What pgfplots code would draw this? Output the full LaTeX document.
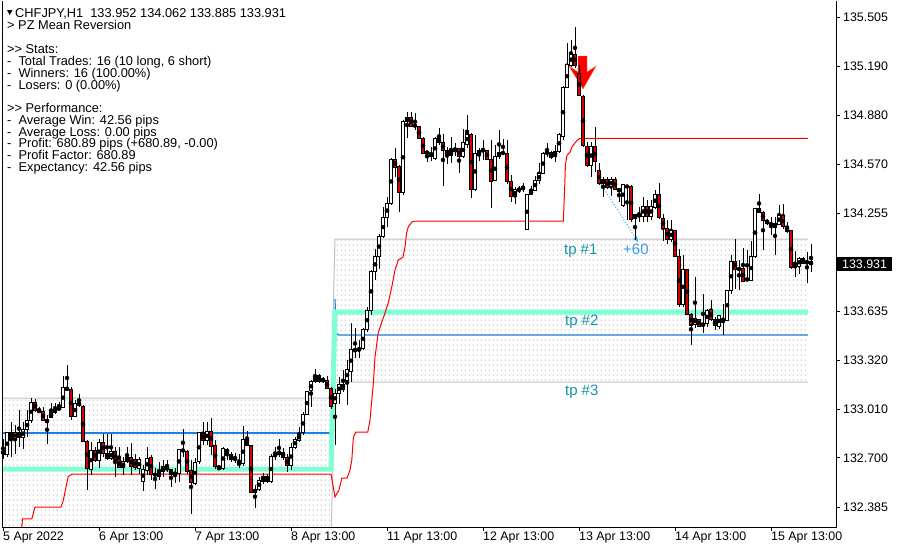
\documentclass[border=0pt]{standalone}
\usepackage{fontspec}
\setmainfont{Liberation Sans}
\usepackage{pgfplots}
\usepackage{pgfplotstable}
\pgfplotsset{compat=1.18}
\usetikzlibrary{patterns,arrows.meta}

\definecolor{bearred}{RGB}{215,0,0}
\definecolor{tpaqua}{RGB}{127,255,212}
\definecolor{midblue}{RGB}{30,128,230}
\definecolor{bandgray}{RGB}{192,192,192}
\definecolor{dotgray}{RGB}{188,188,188}
\definecolor{tpteal}{RGB}{20,150,165}
\definecolor{pipblue}{RGB}{60,150,240}
\definecolor{tradeblue}{RGB}{30,170,240}
\definecolor{arrowedge}{RGB}{255,110,40}

% small vertical dashes that shade the reversion zones
\pgfdeclarepatternformonly{zonedots}{\pgfqpoint{0pt}{0pt}}{\pgfqpoint{4pt}{5pt}}{\pgfqpoint{4pt}{5pt}}{%
  \pgfpathrectangle{\pgfqpoint{1pt}{0pt}}{\pgfqpoint{1pt}{2pt}}\pgfusepath{fill}}

\newcommand\infofont{\fontsize{12.8}{14}\selectfont}
\newcommand\axisfont{\fontsize{12.4}{14}\selectfont}
\newcommand\tpfont{\fontsize{15}{17}\selectfont}
\newcommand\gtgt{>\kern0pt>}

% CHFJPY H1 bars: index, open, high, low, close
\pgfplotstableread{
i O H L C
0 132.746 132.825 132.698 132.725
1 132.723 132.867 132.708 132.861
2 132.863 132.931 132.708 132.825
3 132.825 132.910 132.729 132.863
4 132.863 133.005 132.772 132.831
5 132.831 132.931 132.761 132.882
6 132.882 133.005 132.831 132.937
7 132.937 133.079 132.920 133.054
8 133.054 133.079 132.994 133.005
9 133.005 133.026 132.984 132.994
10 132.994 133.026 132.937 132.941
11 132.941 132.973 132.789 132.931
12 132.958 133.052 132.952 132.990
13 132.990 133.052 132.984 133.011
14 133.009 133.058 133.005 133.022
15 133.022 133.223 133.016 133.147
16 133.147 133.291 133.128 133.136
17 133.136 133.153 132.941 132.963
18 132.963 133.069 132.963 133.047
19 133.052 133.111 133.026 133.037
20 133.030 133.037 132.804 132.804
21 132.808 132.814 132.496 132.634
22 132.628 132.804 132.592 132.746
23 132.746 132.768 132.676 132.687
24 132.683 132.818 132.634 132.799
25 132.799 132.852 132.708 132.729
26 132.729 132.852 132.687 132.698
27 132.698 132.852 132.687 132.740
28 132.740 132.772 132.581 132.691
29 132.691 132.772 132.634 132.640
30 132.640 132.708 132.592 132.676
31 132.676 132.768 132.670 132.704
32 132.704 132.793 132.592 132.645
33 132.691 132.729 132.623 132.640
34 132.634 132.708 132.602 132.691
35 132.549 132.655 132.490 132.628
36 132.623 132.768 132.592 132.698
37 132.704 132.719 132.560 132.592
38 132.598 132.634 132.500 132.592
39 132.581 132.676 132.560 132.617
40 132.613 132.691 132.581 132.645
41 132.628 132.687 132.613 132.640
42 132.628 132.634 132.517 132.592
43 132.592 132.640 132.543 132.609
44 132.602 132.755 132.549 132.755
45 132.746 132.888 132.708 132.751
46 132.744 132.751 132.602 132.613
47 132.623 132.687 132.348 132.543
48 132.539 132.698 132.528 132.672
49 132.676 132.867 132.666 132.861
50 132.857 132.931 132.782 132.814
51 132.814 132.931 132.782 132.871
52 132.871 132.952 132.719 132.776
53 132.782 132.814 132.628 132.645
54 132.649 132.649 132.623 132.634
55 132.634 132.768 132.623 132.761
56 132.755 132.761 132.687 132.725
57 132.723 132.740 132.676 132.691
58 132.702 132.734 132.666 132.691
59 132.662 132.723 132.634 132.666
60 132.662 132.903 132.649 132.818
61 132.818 132.874 132.776 132.782
62 132.782 132.782 132.479 132.481
63 132.481 132.528 132.380 132.503
64 132.503 132.581 132.492 132.560
65 132.549 132.606 132.539 132.585
66 132.585 132.602 132.543 132.549
67 132.549 132.729 132.543 132.712
68 132.708 132.772 132.687 132.729
69 132.725 132.821 132.708 132.740
70 132.736 132.761 132.687 132.704
71 132.704 132.729 132.613 132.651
72 132.651 132.797 132.623 132.768
73 132.768 132.835 132.761 132.821
74 132.814 132.899 132.804 132.852
75 132.861 132.994 132.846 132.980
76 132.980 133.128 132.973 133.122
77 133.128 133.196 133.026 133.185
78 133.185 133.264 133.179 133.221
79 133.228 133.238 133.179 133.185
80 133.192 133.217 133.179 133.196
81 133.192 133.222 133.137 133.143
82 133.143 133.154 133.010 133.031
83 133.048 133.143 132.783 133.111
84 133.111 133.217 133.048 133.171
85 133.171 133.260 133.122 133.137
86 133.196 133.323 133.037 133.260
87 133.249 133.557 133.185 133.391
88 133.383 133.525 133.334 133.391
89 133.383 133.451 133.334 133.398
90 133.398 133.525 133.387 133.518
91 133.518 133.663 133.504 133.637
92 133.637 133.896 133.610 133.885
93 133.885 134.027 133.832 133.981
94 133.981 134.129 133.906 134.112
95 134.108 134.299 134.097 134.231
96 134.231 134.362 134.171 134.320
97 134.320 134.606 134.309 134.600
98 134.600 134.670 134.489 134.549
99 134.557 134.564 134.267 134.388
100 134.388 134.850 134.373 134.839
101 134.839 134.903 134.733 134.867
102 134.867 134.903 134.807 134.812
103 134.818 134.892 134.786 134.812
104 134.807 134.812 134.727 134.733
105 134.733 134.740 134.634 134.638
106 134.648 134.655 134.585 134.638
107 134.621 134.680 134.590 134.638
108 134.606 134.744 134.596 134.733
109 134.733 134.803 134.691 134.706
110 134.706 134.761 134.432 134.655
111 134.655 134.680 134.570 134.627
112 134.627 134.744 134.574 134.649
113 134.649 134.706 134.621 134.670
114 134.670 134.670 134.515 134.617
115 134.617 134.791 134.606 134.706
116 134.697 134.882 134.670 134.761
117 134.761 134.769 134.352 134.409
118 134.409 134.755 134.401 134.638
119 134.627 134.670 134.591 134.655
120 134.655 134.723 134.600 134.659
121 134.659 134.659 134.596 134.600
122 134.600 134.723 134.288 134.458
123 134.464 134.691 134.464 134.617
124 134.617 134.786 134.606 134.644
125 134.638 134.733 134.627 134.644
126 134.638 134.723 134.447 134.458
127 134.458 134.500 134.330 134.367
128 134.367 134.426 134.316 134.405
129 134.401 134.430 134.384 134.415
130 134.415 134.447 134.394 134.420
131 134.155 134.379 134.155 134.379
132 134.379 134.430 134.373 134.401
133 134.405 134.494 134.401 134.468
134 134.464 134.574 134.443 134.511
135 134.511 134.649 134.506 134.638
136 134.638 134.701 134.617 134.649
137 134.644 134.655 134.600 134.613
138 134.621 134.691 134.585 134.649
139 134.649 134.765 134.638 134.755
140 134.744 135.066 134.727 135.058
141 135.058 135.342 135.051 135.200
142 135.200 135.359 135.189 135.270
143 135.270 135.439 135.179 135.200
144 135.147 135.200 135.003 135.009
145 135.003 135.009 134.680 134.691
146 134.685 134.712 134.553 134.564
147 134.564 134.712 134.489 134.685
148 134.685 134.803 134.521 134.585
149 134.528 134.574 134.437 134.447
150 134.447 134.489 134.362 134.472
151 134.472 134.489 134.415 134.420
152 134.426 134.489 134.367 134.472
153 134.472 134.489 134.405 134.409
154 134.409 134.415 134.330 134.401
155 134.309 134.447 134.299 134.443
156 134.430 134.437 134.218 134.426
157 134.430 134.437 134.203 134.218
158 134.224 134.252 134.087 134.246
159 134.240 134.299 134.203 134.246
160 134.235 134.362 134.203 134.303
161 134.303 134.341 134.203 134.235
162 134.239 134.341 134.214 134.299
163 134.295 134.405 134.282 134.379
164 134.379 134.447 134.218 134.229
165 134.224 134.250 134.080 134.161
166 134.161 134.214 134.060 134.090
167 134.090 134.216 134.076 134.150
168 134.150 134.155 133.978 133.983
169 133.983 134.030 133.662 133.676
170 133.680 133.995 133.662 133.900
171 133.900 133.906 133.610 133.615
172 133.614 133.620 133.419 133.546
173 133.552 133.853 133.525 133.588
174 133.582 133.588 133.535 133.540
175 133.540 133.743 133.493 133.556
176 133.556 133.652 133.535 133.641
177 133.645 133.705 133.573 133.582
178 133.582 133.599 133.518 133.546
179 133.535 133.610 133.525 133.610
180 133.567 133.679 133.482 133.578
181 133.578 133.768 133.573 133.768
182 133.764 133.992 133.747 133.949
183 133.953 134.097 133.779 133.900
184 133.906 133.959 133.768 133.900
185 133.906 134.034 133.822 133.822
186 133.843 134.027 133.828 133.832
187 133.832 134.082 133.828 133.985
188 133.981 134.288 133.976 134.288
189 134.288 134.383 134.256 134.260
190 134.260 134.273 134.027 134.214
191 134.214 134.218 134.182 134.193
192 134.193 134.235 134.118 134.182
193 134.167 134.235 133.991 134.193
194 134.188 134.309 134.182 134.246
195 134.246 134.320 134.161 134.171
196 134.176 134.203 134.129 134.140
197 134.146 134.150 133.906 133.913
198 133.913 134.019 133.853 133.928
199 133.921 133.981 133.874 133.970
200 133.970 133.981 133.934 133.938
201 133.938 134.012 133.815 133.953
202 133.952 134.062 133.885 133.931
}\candles

\begin{document}
\begin{tikzpicture}
\useasboundingbox (0pt,0pt) rectangle (900pt,-550pt);
\begin{axis}[
  at={(2pt,-527pt)}, anchor=south west,
  scale only axis, width=834pt, height=526pt,
  xmin=-0.25, xmax=208.25, ymin=132.261, ymax=135.607,
  axis line style={draw=none},
  clip mode=individual,
  unbounded coords=discard,
  tick align=outside,
  major tick length=4pt,
  tick style={black, line width=1pt},
  xtick pos=left, ytick pos=right, yticklabel pos=right,
  xtick={0,24,48,72,96,120,144,168,192},
  xticklabels={5 Apr 2022,6 Apr 13:00,7 Apr 13:00,8 Apr 13:00,11 Apr 13:00,12 Apr 13:00,13 Apr 13:00,14 Apr 13:00,15 Apr 13:00},
  ytick={132.385,132.700,133.010,133.320,133.635,134.255,134.570,134.880,135.190,135.505},
  yticklabels={132.385,132.700,133.010,133.320,133.635,134.255,134.570,134.880,135.190,135.505},
  xticklabel style={font=\axisfont, anchor=north west, inner sep=0pt, yshift=-1pt},
  yticklabel style={font=\axisfont, anchor=west, inner sep=0pt, xshift=3pt},
]
% shaded reversion zones
\addplot[draw=none, pattern=zonedots, pattern color=dotgray] coordinates {(-0.75,133.081) (82,133.081) (82,132.18) (-0.75,132.18)} -- cycle;
\addplot[draw=none, pattern=zonedots, pattern color=dotgray] coordinates {(83,134.093) (201.2,134.093) (201.2,133.183) (83,133.183)} -- cycle;
% zone edges (tp #1 / tp #3 levels)
\addplot[bandgray, line width=1pt] coordinates {(-0.75,133.081) (82,133.081) (83,134.093) (201.2,134.093)};
\addplot[bandgray, line width=1pt] coordinates {(-0.75,132.18) (82,132.18) (83,133.183) (201.2,133.183)};
% mean level
\addplot[midblue, line width=1.2pt] coordinates {(-0.75,132.859) (82,132.859)};
\addplot[midblue, line width=1.2pt] coordinates {(83,133.71) (83.3,133.495) (84,133.482) (201.2,133.482)};
% tp #2 level
\addplot[tpaqua, line width=5pt] coordinates {(-0.75,132.630) (82,132.630) (83,133.628) (201.2,133.628)};
% trailing line
\addplot[red, line width=1pt] coordinates {
 (4.4,132.20) (4.9,132.312) (7.2,132.312) (8,132.388) (14.5,132.388) (15.1,132.433)
 (15.75,132.515) (16.3,132.581) (17.2,132.598) (82,132.598) (83,132.452) (83.3,132.465)
 (84,132.496) (84.7,132.572) (86,132.572) (86.75,132.623) (87.2,132.687) (87.6,132.833)
 (88.2,132.865) (91.2,132.865) (91.75,132.941) (92.2,133.069) (92.6,133.177) (93,133.342)
 (93.8,133.495) (94.7,133.565) (95.5,133.622) (96.3,133.686) (97.2,133.788) (98,133.895)
 (98.8,133.959) (99.7,133.972) (100,133.978) (100.5,134.042) (100.9,134.131) (101.3,134.169)
 (102.2,134.201) (103,134.207) (140.08,134.207) (140.4,134.405) (140.6,134.564) (141,134.627)
 (141.75,134.646) (142.25,134.678) (143,134.704) (143.75,134.726) (144.25,134.733) (201.2,134.733)};
% sell signal arrow
\addplot[fill=red, draw=arrowedge, line width=0.4pt, line join=miter] coordinates {(143.75,135.257) (146,135.257) (146,135.155) (148.25,135.193) (145,135.047) (141.5,135.193) (143.75,135.155)} -- cycle;
% trade path to the first target
\addplot[tradeblue, dotted, line width=1pt, -{Stealth[length=6pt,width=5pt]}] coordinates {(149.5,134.443) (158.75,134.074)};
% candles: wicks, body outlines, body fills
\addplot[only marks, mark=none, error bars/.cd, y dir=both, y explicit, error mark=none,
  error bar style={black, line width=1pt}]
  table[x=i, y expr={(\thisrow{H}+\thisrow{L})/2}, y error expr={(\thisrow{H}-\thisrow{L})/2}] {\candles};
\addplot[only marks, mark=none, error bars/.cd, y dir=both, y explicit, error mark=none,
  error bar style={black, line width=3.2pt}]
  table[x=i, y expr={(\thisrow{O}+\thisrow{C})/2}, y error expr={abs(\thisrow{C}-\thisrow{O})/2+0.0032}] {\candles};
\addplot[only marks, mark=none, error bars/.cd, y dir=both, y explicit, error mark=none,
  error bar style={white, line width=1.3pt}]
  table[x=i, y expr={(\thisrow{C}-\thisrow{O}>0.0065) ? ((\thisrow{O}+\thisrow{C})/2) : nan},
        y error expr={abs(\thisrow{C}-\thisrow{O})/2-0.0032}] {\candles};
\addplot[only marks, mark=none, error bars/.cd, y dir=both, y explicit, error mark=none,
  error bar style={bearred, line width=1.3pt}]
  table[x=i, y expr={(\thisrow{O}-\thisrow{C}>0.0065) ? ((\thisrow{O}+\thisrow{C})/2) : nan},
        y error expr={abs(\thisrow{C}-\thisrow{O})/2-0.0032}] {\candles};
% frame: left, bottom, right
\draw[black, line width=1pt] (rel axis cs:0,1) -- (rel axis cs:0,0) -- (rel axis cs:1,0) -- (rel axis cs:1,1);
% target labels
\node[anchor=base west, inner sep=0pt, font=\tpfont, text=tpteal] at (axis cs:140.25,133.997) {tp\hspace{4pt}\#1};
\node[anchor=base west, inner sep=0pt, font=\tpfont, text=pipblue] at (axis cs:155,133.997) {+60};
\node[anchor=base west, inner sep=0pt, font=\tpfont, text=tpteal] at (axis cs:140.5,133.543) {tp\hspace{4pt}\#2};
\node[anchor=base west, inner sep=0pt, font=\tpfont, text=tpteal] at (axis cs:140.5,133.097) {tp\hspace{4pt}\#3};
% last price
\node[fill=black, text=white, anchor=west, inner xsep=5pt, inner ysep=0pt, minimum height=14pt, font=\axisfont] at (axis cs:208.5,133.931) {133.931};
\end{axis}
% info block
\fill (7pt,-10pt) -- (12.5pt,-10pt) -- (9.75pt,-15pt) -- cycle;
\node[anchor=base west, inner sep=0pt, font=\infofont] at (15pt,-17.5pt) {CHFJPY,H1\ \ 133.952 134.062 133.885 133.931};
\node[anchor=base west, inner sep=0pt, font=\infofont] at (7pt,-29.5pt) {> PZ Mean Reversion};
\node[anchor=base west, inner sep=0pt, font=\infofont] at (7pt,-53.5pt) {\gtgt\ Stats:};
\node[anchor=base west, inner sep=0pt, font=\infofont] at (7pt,-65.5pt) {-\ \ Total Trades: 16 (10 long, 6 short)};
\node[anchor=base west, inner sep=0pt, font=\infofont] at (7pt,-77.2pt) {-\ \ Winners: 16 (100.00\%)};
\node[anchor=base west, inner sep=0pt, font=\infofont] at (7pt,-89pt) {-\ \ Losers: 0 (0.00\%)};
\node[anchor=base west, inner sep=0pt, font=\infofont] at (7pt,-112.5pt) {\gtgt\ Performance:};
\node[anchor=base west, inner sep=0pt, font=\infofont] at (7pt,-124.3pt) {-\ \ Average Win: 42.56 pips};
\node[anchor=base west, inner sep=0pt, font=\infofont] at (7pt,-136pt) {-\ \ Average Loss: 0.00 pips};
\node[anchor=base west, inner sep=0pt, font=\infofont] at (7pt,-147.8pt) {-\ \ Profit: 680.89 pips (+680.89, -0.00)};
\node[anchor=base west, inner sep=0pt, font=\infofont] at (7pt,-159.5pt) {-\ \ Profit Factor: 680.89};
\node[anchor=base west, inner sep=0pt, font=\infofont] at (7pt,-171.3pt) {-\ \ Expectancy: 42.56 pips};
\end{tikzpicture}
\end{document}
